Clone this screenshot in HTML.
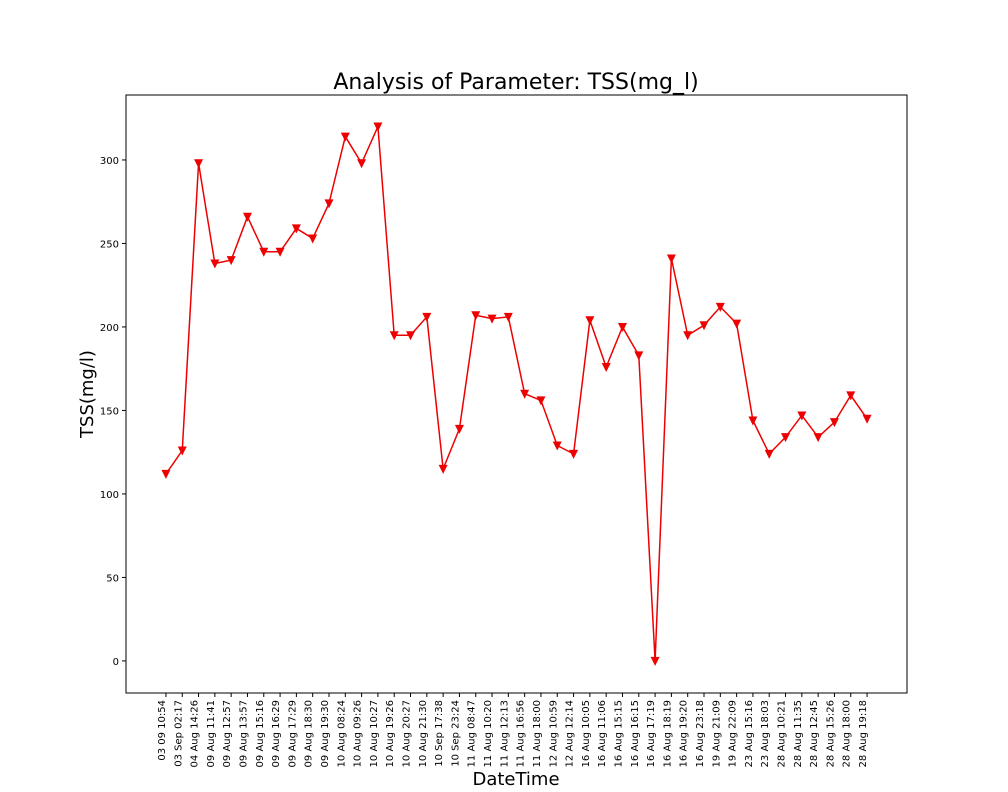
<!DOCTYPE html>
<html><head><meta charset="utf-8"><style>
body{margin:0;background:#fff;}
svg{display:block;font-family:"DejaVu Sans","Liberation Sans",sans-serif;}
</style></head><body>
<svg id="chart" width="1008" height="792">
<text x="516" y="89" text-anchor="middle" font-size="22">Analysis of Parameter: TSS(mg_l)</text>
<rect x="126" y="95" width="781" height="598" fill="none" stroke="#000" stroke-width="1"/>
<g id="yticks"></g><g id="xticks"></g>
<path id="line" fill="none" stroke="#e00" stroke-width="1.5"/>
<g id="markers"></g>
<text x="93" y="394" transform="rotate(-90 93 394)" text-anchor="middle" font-size="18">TSS(mg/l)</text>
<text x="516" y="785" text-anchor="middle" font-size="18">DateTime</text>
</svg>
<script>
const categories=["03 09 10:54","03 Sep 02:17","04 Aug 14:26","09 Aug 11:41","09 Aug 12:57","09 Aug 13:57","09 Aug 15:16","09 Aug 16:29","09 Aug 17:29","09 Aug 18:30","09 Aug 19:30","10 Aug 08:24","10 Aug 09:26","10 Aug 10:27","10 Aug 19:26","10 Aug 20:27","10 Aug 21:30","10 Sep 17:38","10 Sep 23:24","11 Aug 08:47","11 Aug 10:20","11 Aug 12:13","11 Aug 16:56","11 Aug 18:00","12 Aug 10:59","12 Aug 12:14","16 Aug 10:05","16 Aug 11:06","16 Aug 15:15","16 Aug 16:15","16 Aug 17:19","16 Aug 18:19","16 Aug 19:20","16 Aug 23:18","19 Aug 21:09","19 Aug 22:09","23 Aug 15:16","23 Aug 18:03","28 Aug 10:21","28 Aug 11:35","28 Aug 12:45","28 Aug 15:26","28 Aug 18:00","28 Aug 19:18"];
const values=[112,126,298,238,240,266,245,245,259,253,274,314,298,320,195,195,206,115,139,207,205,206,160,156,129,124,204,176,200,183,0,241,195,201,212,202,144,124,134,147,134,143,159,145];
const yTicks=[0,50,100,150,200,250,300];
const NS="http://www.w3.org/2000/svg";
const L=126,R=907,T=95,B=693;
const yMin=-19.2,yMax=338.9;
const xMin=-2.45,xMax=(categories.length-1)+2.45;
const xs=i=>L+(i-xMin)/(xMax-xMin)*(R-L);
const ys=v=>B-(v-yMin)/(yMax-yMin)*(B-T);
const yg=document.getElementById('yticks');
yTicks.forEach(t=>{
 const y=ys(t);
 const l=document.createElementNS(NS,'line');
 l.setAttribute('x1',L-4);l.setAttribute('x2',L);l.setAttribute('y1',y);l.setAttribute('y2',y);l.setAttribute('stroke','#000');
 
 
 yg.appendChild(l);
 const tx=document.createElementNS(NS,'text');
 tx.setAttribute('x',L-7);tx.setAttribute('y',y+4);tx.setAttribute('text-anchor','end');tx.setAttribute('font-size','10');
 tx.textContent=t;
 
 
 yg.appendChild(tx);
});
const xg=document.getElementById('xticks');
categories.forEach((c,i)=>{
 const x=xs(i);
 const l=document.createElementNS(NS,'line');
 l.setAttribute('x1',x);l.setAttribute('x2',x);l.setAttribute('y1',B);l.setAttribute('y2',B+4);l.setAttribute('stroke','#000');
 
 
 xg.appendChild(l);
 const tx=document.createElementNS(NS,'text');
 const y0=B+7, bx=x-1;
 tx.setAttribute('x',bx);tx.setAttribute('y',y0);tx.setAttribute('text-anchor','end');tx.setAttribute('font-size','10');
 tx.setAttribute('transform','rotate(-90 '+bx+' '+y0+')');
 tx.textContent=c;
 
 
 xg.appendChild(tx);
});
document.getElementById('line').setAttribute('d',values.map((v,i)=>(i?'L':'M')+xs(i)+' '+ys(v)).join(' '));
const mg=document.getElementById('markers');
values.forEach((v,i)=>{
 const x=xs(i),y=ys(v);
 const p=document.createElementNS(NS,'polygon');
 p.setAttribute('points',(x-4.5)+','+(y-4)+' '+(x+4.5)+','+(y-4)+' '+x+','+(y+5));
 p.setAttribute('fill','#e00');
 
 
 mg.appendChild(p);
});
</script>
</body></html>
